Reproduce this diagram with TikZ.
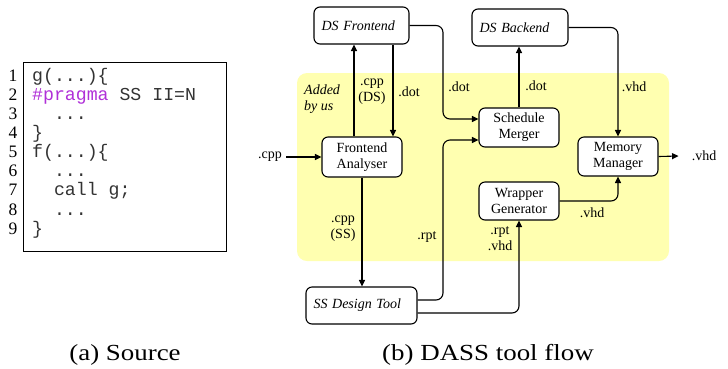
\documentclass[tikz,border=0pt]{standalone}
\usepackage{fontspec}
\setmainfont{Liberation Serif}
\setmonofont{Liberation Mono}
\newfontfamily\capfont[FakeStretch=1.17]{Liberation Serif}
\usetikzlibrary{arrows.meta}
\definecolor{pragmacol}{RGB}{176,48,216}
\definecolor{areafill}{RGB}{255,255,176}

\begin{document}
\begin{tikzpicture}[x=1pt,y=-1pt,
  blk/.style={draw,line width=1.1pt,rounded corners=6pt,fill=white,
    align=center,inner sep=0pt,font=\fontsize{14}{16}\selectfont},
  ext/.style={blk,font=\fontsize{14}{16}\selectfont\itshape,align=left,
    inner xsep=7.5pt,inner ysep=0pt},
  arr/.style={line width=1.1pt,rounded corners=7pt,-{Triangle[length=6.5pt,width=6pt]}},
  lbl/.style={inner sep=0pt,align=center,font=\fontsize{14}{16}\selectfont},
  lno/.style={anchor=mid east,inner sep=0pt,font=\fontsize{17.5}{19}\selectfont},
  code/.style={anchor=mid west,inner sep=0pt,text=black!80,font=\fontsize{18.2}{19}\ttfamily},
  caption/.style={inner sep=0pt,font=\fontsize{23}{26}\capfont}]
\useasboundingbox (0,0) rectangle (728,368);

% ---- (a) source listing ----
\draw[line width=0.8pt] (23,62) rectangle (226,251);
\foreach \i in {1,...,9}{
  \node[lno] (n\i) at (17.5,{79+19.1*(\i-1)}) {\i};
}
\node[code] (l1) at (32,79.0)  {g(...)\{};
\node[code] (l2) at (32,98.1)  {\textcolor{pragmacol}{\#pragma} SS II=N};
\node[code] (l3) at (32,117.2) {\ \ ...};
\node[code] (l4) at (32,136.3) {\}};
\node[code] (l5) at (32,155.4) {f(...)\{};
\node[code] (l6) at (32,174.5) {\ \ ...};
\node[code] (l7) at (32,193.6) {\ \ call g;};
\node[code] (l8) at (32,212.7) {\ \ ...};
\node[code] (l9) at (32,231.8) {\}};
\node[caption] (capa) at (125,355) {(a) Source};

% ---- (b) tool flow ----
\fill[areafill,rounded corners=10pt] (297,73) rectangle (669,261);
\node[lbl,anchor=west,align=left,font=\fontsize{14}{16}\selectfont\itshape] (added) at (304,99) {Added\\by us};

\node[ext,text width=80pt,minimum height=37pt] (dsf) at (361.5,25.5) {DS Frontend};
\node[ext,text width=81pt,minimum height=37pt] (dsb) at (520,27.5) {DS Backend};
\node[ext,text width=96pt,minimum height=37pt] (ss) at (361.5,305.5) {SS Design Tool};
\node[blk,minimum width=80pt,minimum height=39pt] (sm) at (519,127.5) {Schedule\\Merger};
\node[blk,minimum width=80pt,minimum height=40pt] (fa) at (362,157) {Frontend\\Analyser};
\node[blk,minimum width=80pt,minimum height=39pt] (mm) at (618,156.5) {Memory\\Manager};
\node[blk,minimum width=80pt,minimum height=38pt] (wg) at (519,201) {Wrapper\\Generator};

\node[lbl,inner xsep=4pt] (cppin) at (270,157) {.cpp};
\node[lbl,inner xsep=13pt] (vhdout) at (704,156) {.vhd};

% connectors
\draw[arr] (cppin.east) -- (fa.west);
\draw[arr] (mm.east) -- (vhdout.west);
\draw[arr] ([xshift=-8pt]fa.north) -- ([xshift=-8pt]fa.north |- dsf.south);
\draw[arr] ([xshift=31pt]fa.north |- dsf.south) -- ([xshift=31pt]fa.north);
\draw[arr] (dsf.east) -| (443,119) -- ([yshift=8.5pt]sm.west);
\draw[arr] (sm.north) -- (sm.north |- dsb.south);
\draw[arr] (dsb.east) -| (mm.north);
\draw[arr] (fa.south) -- (fa.south |- ss.north);
\draw[arr] ([yshift=5.5pt]ss.east) -| (443,140) -- ([yshift=-12.5pt]sm.west);
\draw[arr] ([yshift=-7.5pt]ss.east) -| (wg.south);
\draw[arr] (wg.east) -| (mm.south);

% connector labels
\node[lbl] (t1) at (372,92) {.cpp\\(DS)};
\node[lbl] (t2) at (409,92) {.dot};
\node[lbl] (t3) at (459,87) {.dot};
\node[lbl] (t4) at (536,86) {.dot};
\node[lbl] (t5) at (634,87) {.vhd};
\node[lbl] (t6) at (343,228.5) {.cpp\\(SS)};
\node[lbl] (t7) at (427,237) {.rpt};
\node[lbl] (t8) at (500,239) {.rpt\\.vhd};
\node[lbl] (t9) at (592,213) {.vhd};

\node[caption] (capb) at (488,355) {(b) DASS tool flow};
\end{tikzpicture}
\end{document}
